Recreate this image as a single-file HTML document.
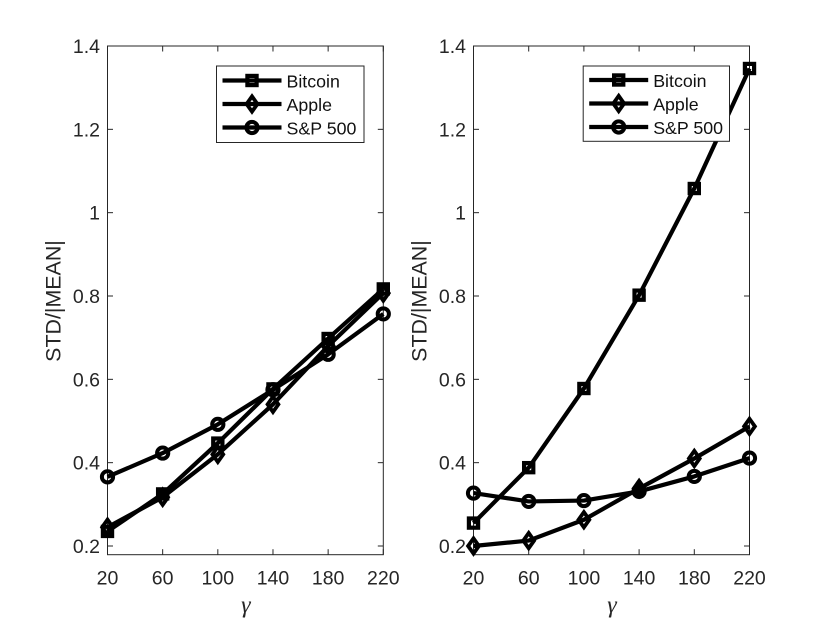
<!DOCTYPE html>
<html>
<head>
<meta charset="utf-8">
<style>
html,body{margin:0;padding:0;background:#fff;width:830px;height:623px;overflow:hidden}
svg{display:block;filter:blur(0.3px)}
text{font-family:"Liberation Sans",sans-serif;fill:#262626}
</style>
</head>
<body>
<svg id="chart" width="830" height="623" viewBox="0 0 830 623" xmlns="http://www.w3.org/2000/svg"></svg>
<script>
const gammaValues = [20, 60, 100, 140, 180, 220];
const yTickValues = [0.2, 0.4, 0.6, 0.8, 1, 1.2, 1.4];
const yTickLabels = ['0.2', '0.4', '0.6', '0.8', '1', '1.2', '1.4'];
const seriesNames = ['Bitcoin', 'Apple', 'S&P 500'];
const leftBitcoin = [0.235, 0.325, 0.447, 0.577, 0.698, 0.817];
const leftApple = [0.245, 0.317, 0.42, 0.54, 0.68, 0.807];
const leftSP500 = [0.366, 0.423, 0.492, 0.575, 0.66, 0.757];
const rightBitcoin = [0.255, 0.388, 0.578, 0.802, 1.058, 1.346];
const rightApple = [0.2, 0.213, 0.263, 0.338, 0.41, 0.487];
const rightSP500 = [0.327, 0.307, 0.309, 0.331, 0.367, 0.411];

const NS = 'http://www.w3.org/2000/svg';
const svg = document.getElementById('chart');
const INK = '#262626';
const top_ = 46, bottom_ = 554.7;
const yOf = v => 546 - (v - 0.2) * (546 - 46) / 1.2;

function mk(parent, tag, attrs) {
  const el = document.createElementNS(NS, tag);
  for (const k in attrs) el.setAttribute(k, attrs[k]);
  parent.appendChild(el);
  return el;
}

function drawMarker(g, kind, x, y) {
  let m;
  if (kind === 0) {
    m = mk(g, 'rect', {x: x - 4.6, y: y - 4.6, width: 9.2, height: 9.2, fill: 'none', stroke: '#000', 'stroke-width': 4.2});
  } else if (kind === 1) {
    m = mk(g, 'polygon', {points: [x, y - 7.6, x + 5.4, y, x, y + 7.6, x - 5.4, y].join(' '), fill: 'none', stroke: '#000', 'stroke-width': 3.8});
  } else {
    m = mk(g, 'circle', {cx: x, cy: y, r: 5.6, fill: 'none', stroke: '#000', 'stroke-width': 4});
  }
  
  
}

function drawPanel(name, x0, x1, seriesList, legend) {
  const panel = mk(svg, 'g', {});
  
  
  const xOf = v => x0 + (v - 20) * (x1 - x0) / 200;

  const frame = mk(panel, 'rect', {x: x0, y: top_, width: x1 - x0, height: bottom_ - top_, fill: '#fff', stroke: INK, 'stroke-width': 1});
  
  

  gammaValues.forEach(v => {
    const x = xOf(v);
    const t1 = mk(panel, 'line', {x1: x, x2: x, y1: bottom_, y2: bottom_ - 5.5, stroke: INK, 'stroke-width': 1});
    
    
    const t2 = mk(panel, 'line', {x1: x, x2: x, y1: top_, y2: top_ + 5.5, stroke: INK, 'stroke-width': 1});
    
    
    const lab = mk(panel, 'text', {x: x, y: 584.5, 'text-anchor': 'middle', 'font-size': 19.5});
    lab.textContent = String(v);
    
    
  });

  yTickValues.forEach((v, i) => {
    const y = yOf(v);
    const t1 = mk(panel, 'line', {x1: x0, x2: x0 + 5.5, y1: y, y2: y, stroke: INK, 'stroke-width': 1});
    
    
    const t2 = mk(panel, 'line', {x1: x1, x2: x1 - 5.5, y1: y, y2: y, stroke: INK, 'stroke-width': 1});
    
    
    const lab = mk(panel, 'text', {x: x0 - 7.5, y: y + 7, 'text-anchor': 'end', 'font-size': 19.5});
    lab.textContent = yTickLabels[i];
    
    
  });

  const yTitleX = x0 - 47;
  const yTitle = mk(panel, 'text', {x: yTitleX, y: 301, 'text-anchor': 'middle', 'font-size': 21.4, transform: 'rotate(-90 ' + yTitleX + ' 301)'});
  yTitle.textContent = 'STD/|MEAN|';
  
  

  const xTitle = mk(panel, 'text', {x: (x0 + x1) / 2 + 0.5, y: 612.5, 'text-anchor': 'middle', 'font-size': 24, 'font-style': 'italic'});
  xTitle.style.fontFamily = '"Liberation Serif", "DejaVu Serif", serif';
  xTitle.textContent = 'γ';
  
  

  seriesList.forEach((vals, s) => {
    const g = mk(panel, 'g', {});
    
    
    const pts = vals.map((v, i) => xOf(gammaValues[i]) + ',' + yOf(v)).join(' ');
    const line = mk(g, 'polyline', {points: pts, fill: 'none', stroke: '#000', 'stroke-width': 4.2, 'stroke-linejoin': 'round'});
    
    
    vals.forEach((v, i) => drawMarker(g, s, xOf(gammaValues[i]), yOf(v)));
  });

  const lg = mk(panel, 'g', {});
  
  
  const box = mk(lg, 'rect', {x: legend.x, y: 66, width: legend.w, height: legend.h, fill: '#fff', stroke: INK, 'stroke-width': 1});
  
  
  const rows = legend.rows;
  seriesNames.forEach((nm, s) => {
    const entry = mk(lg, 'g', {});
    
    
    const y = rows[s];
    const lx0 = legend.x + 6, lx1 = lx0 + 59;
    mk(entry, 'line', {x1: lx0, x2: lx1, y1: y, y2: y, stroke: '#000', 'stroke-width': 4.2});
    drawMarker(entry, s, (lx0 + lx1) / 2, y);
    const t = mk(entry, 'text', {x: lx1 + 5, y: y + 7.2, 'font-size': 17.8});
    t.style.fill = '#111';
    t.textContent = nm;
  });
}

drawPanel('left-panel', 107.5, 383.3, [leftBitcoin, leftApple, leftSP500], {x: 216.5, w: 147.5, h: 76.5, rows: [80.5, 104, 127.5]});
drawPanel('right-panel', 473.5, 749.5, [rightBitcoin, rightApple, rightSP500], {x: 583.2, w: 146.3, h: 75.3, rows: [80, 103.5, 127]});
</script>
</body>
</html>
